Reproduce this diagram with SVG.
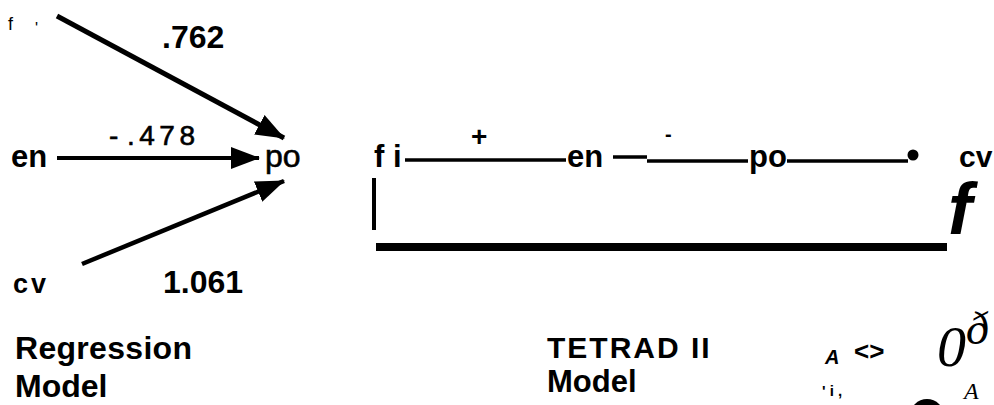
<svg xmlns="http://www.w3.org/2000/svg" width="994" height="405" viewBox="0 0 994 405">
<defs>
<style>
.b{font-family:"Liberation Sans",Arial,sans-serif;font-weight:bold;fill:#000}
.r{font-family:"Liberation Sans",Arial,sans-serif;fill:#000}
.h{font-family:"Liberation Serif",serif;font-style:italic;fill:#000}
.ln{stroke:#000;fill:none}
</style>
<marker id="ah" markerUnits="userSpaceOnUse" markerWidth="30" markerHeight="24" refX="28" refY="12" orient="auto" viewBox="0 0 30 24">
<path d="M0,1 L29,12 L0,23 Z" fill="#000"/>
</marker>
</defs>
<rect width="994" height="405" fill="#fff"/>
<g id="connectors">
<line class="ln" x1="57" y1="16" x2="284" y2="138" stroke-width="5" marker-end="url(#ah)"/>
<line class="ln" x1="57" y1="158" x2="259" y2="158" stroke-width="4" marker-end="url(#ah)"/>
<line class="ln" x1="82" y1="264" x2="284" y2="181" stroke-width="4.5" marker-end="url(#ah)"/>
<line class="ln" x1="405" y1="160" x2="566" y2="160" stroke-width="3.5"/>
<line class="ln" x1="613" y1="157" x2="647" y2="157" stroke-width="3.5"/>
<line class="ln" x1="647" y1="161" x2="748" y2="161" stroke-width="3.5"/>
<line class="ln" x1="787" y1="161" x2="908" y2="161" stroke-width="3.5"/>
<circle cx="913" cy="155" r="5.5" fill="#000"/>
<line class="ln" x1="374" y1="178" x2="374" y2="230" stroke-width="4"/>
<line class="ln" x1="376" y1="247" x2="947" y2="247" stroke-width="8"/>
</g>
<g id="label-762"><text class="b" x="162" y="48" font-size="32">.762</text></g>
<g id="label-478"><text class="r" x="109" y="145" font-size="28" stroke="#000" stroke-width="0.6">-<tspan x="127" letter-spacing="4.5">.478</tspan></text></g>
<g id="label-1061"><text class="b" x="163" y="293" font-size="32">1.061</text></g>
<g id="node-fi-left"><text class="r" x="8" y="30" font-size="18">f</text><text class="r" x="35" y="34" font-size="16">'</text></g>
<g id="node-en-left"><text class="b" x="11" y="167" font-size="31">en</text></g>
<g id="node-po-left"><text class="r" x="265" y="167" font-size="32" stroke="#000" stroke-width="0.6">po</text></g>
<g id="node-cv-left"><text class="b" x="13" y="293" font-size="27" letter-spacing="3">cv</text></g>
<g id="caption-regression"><text class="b" x="15" y="359" font-size="32" letter-spacing="0.3">Regression</text><text class="b" x="15" y="397" font-size="32">Model</text></g>
<g id="node-fi-right"><text class="b" x="374" y="167" font-size="31">f i</text></g>
<g id="sign-plus"><text class="b" x="471" y="146" font-size="28">+</text></g>
<g id="node-en-right"><text class="b" x="567" y="167" font-size="31">en</text></g>
<g id="sign-minus"><text class="b" x="665" y="141" font-size="20">-</text></g>
<g id="node-po-right"><text class="b" x="749" y="167" font-size="31">po</text></g>
<g id="node-cv-right"><text class="b" x="959" y="167" font-size="30">cv</text></g>
<g id="node-f-right"><text class="b" x="948" y="234" font-size="72" font-style="italic">f</text></g>
<g id="caption-tetrad"><text class="b" x="547" y="358" font-size="30" letter-spacing="2">TETRAD II</text><text class="b" x="547" y="392" font-size="31">Model</text></g>
<g id="scan-marks">
<text class="b" x="825" y="364" font-size="20" font-style="italic">A</text>
<text class="b" x="854" y="360" font-size="26">&lt;&gt;</text>
<text class="b" x="822" y="396" font-size="15">' i ,</text>
<text class="h" x="937" y="366" font-size="58">0</text>
<text class="h" x="966" y="344" font-size="46">ð</text>
<text class="h" x="964" y="399" font-size="24">A</text>
<circle cx="927" cy="416" r="17" fill="#000"/>
</g>
</svg>
